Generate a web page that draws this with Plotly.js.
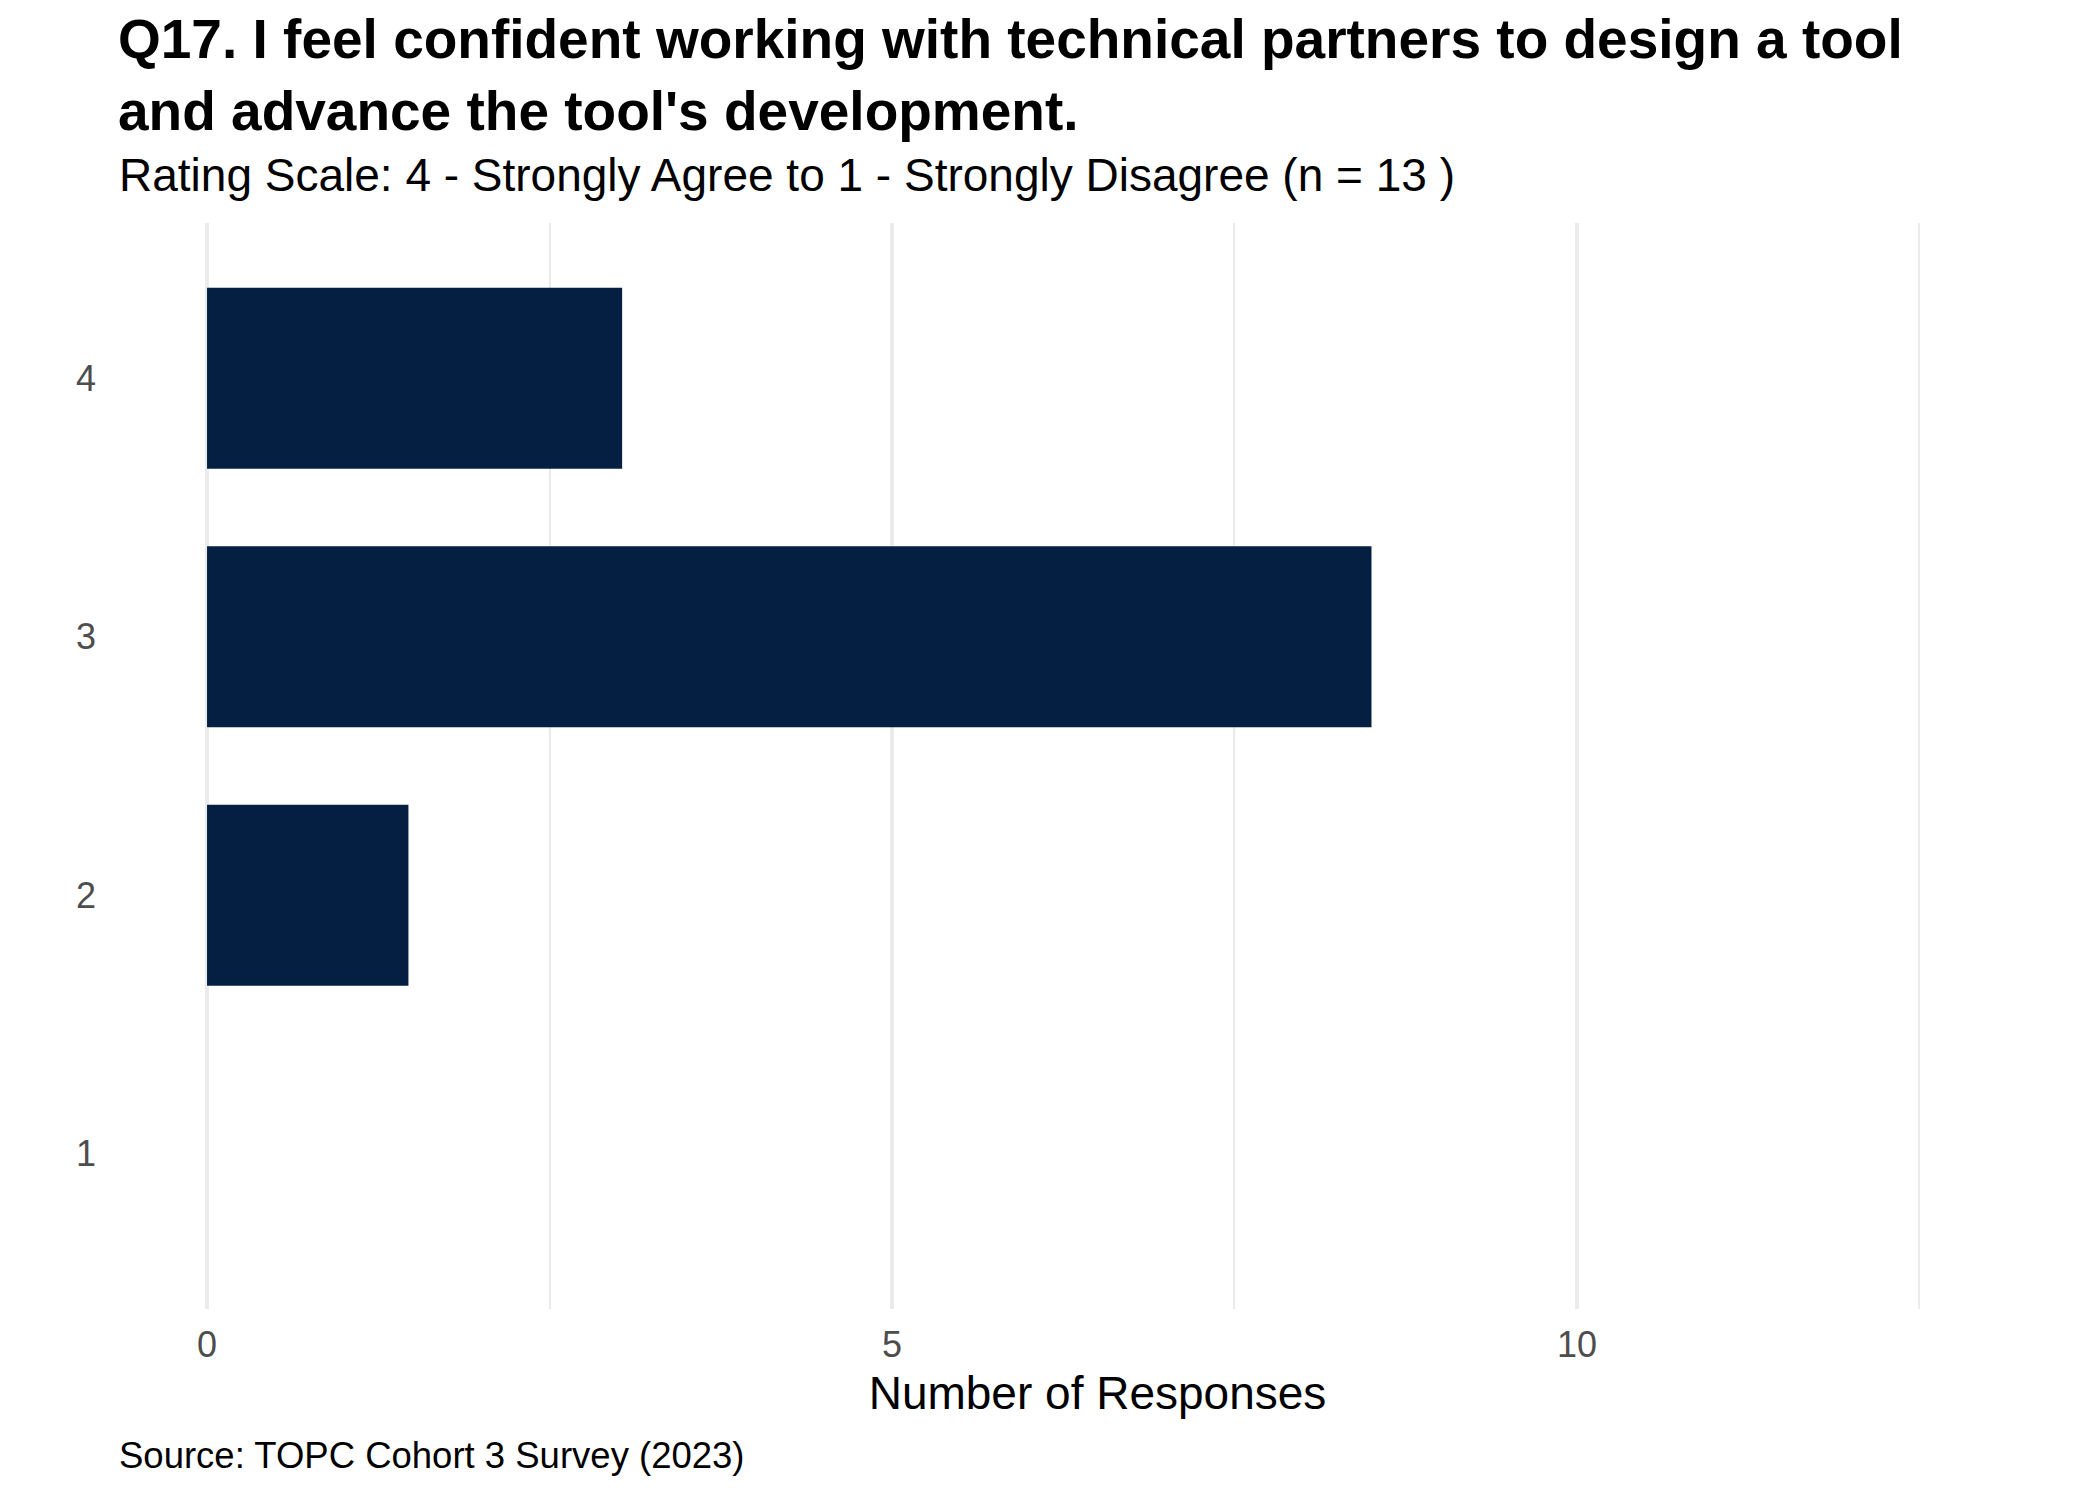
<!DOCTYPE html>
<html>
<head>
<meta charset="utf-8">
<script src="https://cdn.plot.ly/plotly-3.0.1.min.js"></script>
<style>html,body{margin:0;padding:0;background:#fff;}#chart{width:2099px;height:1499px;}</style>
</head>
<body>
<div id="chart"></div>
<script>
// Data
const ratings = ['1', '2', '3', '4'];
const responses = [0, 1.47, 8.5, 3.03];
const xTickVals = [0, 5, 10];
const xTickText = ['0', '5', '10'];
const titleText = "Q17. I feel confident working with technical partners to design a tool<br>and advance the tool's development.";
const subtitleText = "Rating Scale: 4 - Strongly Agree to 1 - Strongly Disagree (n = 13 )";
const xTitleText = "Number of Responses";
const captionText = "Source: TOPC Cohort 3 Survey (2023)";

const FONT = "'Liberation Sans', Arial, Helvetica, sans-serif";
const W = 2099, H = 1499;
const L = 118, R = 22, T = 223, B = 190;
const plotH = H - T - B, plotW = W - L - R;

const trace = {
  type: 'bar',
  orientation: 'h',
  y: ratings,
  x: responses,
  width: 0.7,
  marker: { color: '#051F42', line: { width: 0 } },
  hoverinfo: 'x+y'
};

const layout = {
  width: W, height: H,
  paper_bgcolor: '#ffffff', plot_bgcolor: '#ffffff',
  margin: { l: L, r: R, t: T, b: B, pad: 0 },
  showlegend: false,
  font: { family: FONT, color: '#000000' },
  title: {
    text: '<b>' + titleText + '</b>',
    font: { family: FONT, size: 55, color: '#000000' },
    x: 118 / W, xanchor: 'left', xref: 'container',
    y: 1 - 58 / H, yanchor: 'top', yref: 'container'
  },
  xaxis: {
    range: [-0.65, 13.65],
    tickvals: xTickVals, ticktext: xTickText,
    showgrid: true, gridcolor: '#EBEBEB', gridwidth: 4,
    minor: { dtick: 2.5, tick0: 0, showgrid: true, gridcolor: '#EBEBEB', gridwidth: 2 },
    zeroline: false, showline: false, ticks: '',
    tickfont: { family: FONT, size: 36, color: '#4D4D4D' },
    ticklabelstandoff: 11,
    title: { text: xTitleText, font: { family: FONT, size: 46, color: '#000000' }, standoff: 12 },
    fixedrange: true
  },
  yaxis: {
    type: 'category',
    categoryorder: 'array', categoryarray: ratings,
    range: [-0.6, 3.6],
    showgrid: false, zeroline: false, showline: false, ticks: '',
    tickfont: { family: FONT, size: 36, color: '#4D4D4D' },
    ticklabelstandoff: 21,
    fixedrange: true
  },
  annotations: [
    {
      text: subtitleText, xref: 'paper', yref: 'paper',
      x: (117 - L) / plotW, y: (H - B - 175) / plotH,
      xanchor: 'left', yanchor: 'middle', showarrow: false,
      font: { family: FONT, size: 46, color: '#000000' }
    },
    {
      text: captionText, xref: 'paper', yref: 'paper',
      x: (117 - L) / plotW, y: (H - B - 1455) / plotH,
      xanchor: 'left', yanchor: 'middle', showarrow: false,
      font: { family: FONT, size: 36.5, color: '#000000' }
    }
  ]
};

Plotly.newPlot('chart', [trace], layout, { displayModeBar: false, staticPlot: true });
</script>
</body>
</html>
